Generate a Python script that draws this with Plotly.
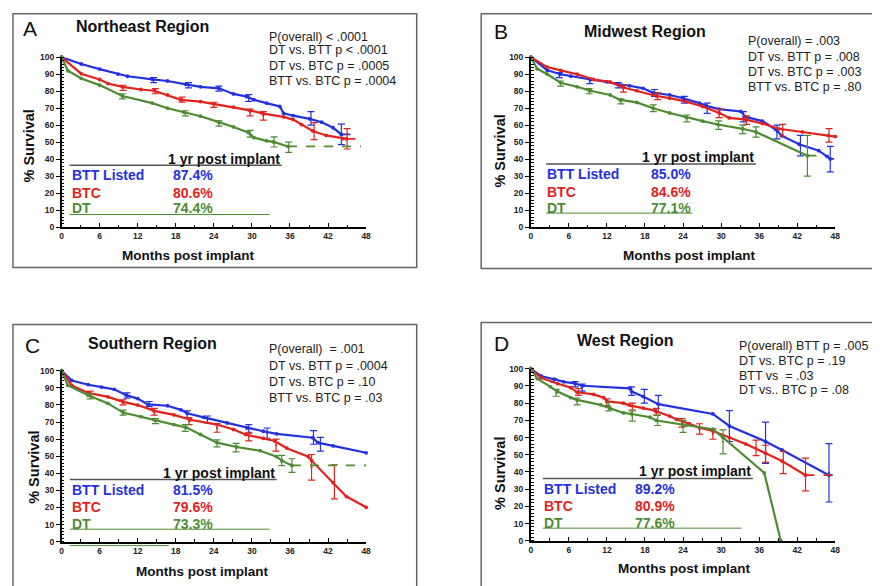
import plotly.graph_objects as go

BLUE = "#2431e0"
RED = "#e2231d"
GREEN = "#4e8c34"
FONT = "Liberation Sans, Arial, Helvetica, sans-serif"

# ---------------- Panel A: Northeast ----------------
NE_BTT_T = [0, 3.1, 6, 8.9, 10.4, 14.3, 16.7, 19.6, 21.9, 24.8, 27.1, 29.2, 30.3, 32.3, 34.4, 35, 36.5, 39.1, 41, 42.8, 44.1]
NE_BTT_S = [100, 96, 93, 90, 88.8, 87, 86, 84, 82.6, 81.7, 78.4, 76.8, 75, 73, 71, 67, 65.6, 63.7, 61.8, 58.5, 54.6]
NE_BTC_T = [0, 3.1, 6, 7.3, 9.6, 12.5, 14.6, 16.7, 18.8, 21.9, 24, 27.1, 29.7, 31.8, 35, 36.5, 37.8, 39.6, 41.7, 44.3, 44.9]
NE_BTC_S = [100, 90.3, 86.9, 84.5, 82.6, 81, 80.3, 77.8, 74.9, 73.9, 72.6, 70.7, 68.7, 66.8, 64.9, 63.3, 60.4, 56.6, 54, 52.1, 52]
NE_DT_T = [0, 1, 3.1, 6, 9.6, 14.3, 16.7, 19.3, 21.9, 24.8, 27.1, 29.5, 30.3, 32.3, 33.4, 35.7]
NE_DT_S = [100, 92, 87.5, 83.6, 77.2, 73, 70, 67.6, 65.3, 61.8, 59, 55.6, 52.7, 50.8, 50.2, 47.5]
NE_BTT_ERR_T = [14.5, 20, 24.8, 29.5, 39.3, 44.1]
NE_BTT_ERR_S = [86.5, 83.5, 81.5, 76, 64, 54.6]
NE_BTT_ERR_H = [1.5, 1.5, 1.5, 2, 4, 6]
NE_BTC_ERR_T = [9.7, 14.8, 19, 24, 29.7, 31.8, 39.8, 45]
NE_BTC_ERR_S = [82, 80, 75, 72, 67.5, 65.5, 56.5, 52]
NE_BTC_ERR_H = [1.5, 1.5, 1.5, 1.5, 2, 2.5, 5, 6]
NE_DT_ERR_T = [9.6, 19.5, 24.8, 29.7, 33.5, 35.8]
NE_DT_ERR_S = [77, 67, 61, 55, 50.2, 47]
NE_DT_ERR_H = [1.5, 1.5, 1.5, 2, 3, 3]
NE_BTT_EXT = 46.5
NE_BTC_EXT = 46.5
NE_DT_EXT = 47.2
NE_ONE_YR = ["87.4%", "80.6%", "74.4%"]
NE_PVALS = ["P(overall) < .0001", "DT vs. BTT p < .0001", "DT vs. BTC p = .0005", "BTT vs. BTC p = .0004"]

# ---------------- Panel B: Midwest ----------------
MW_BTT_T = [0, 2.6, 4.7, 6.3, 9.4, 12, 13.6, 15.6, 17.7, 19.2, 21.9, 24, 26.6, 27.6, 29.7, 33.1, 33.9, 36.5, 38.6, 39.6, 42.3, 45.4, 46.7, 47.2]
MW_BTT_S = [100, 92.3, 90, 88.8, 86.9, 85.5, 84.2, 83.2, 81.7, 79.2, 77.8, 75.9, 73, 71.4, 69.5, 68.1, 64.9, 62.4, 57.5, 53.7, 48.8, 45, 41.7, 40.2]
MW_BTC_T = [0, 2.6, 4.7, 7.3, 9.9, 12.5, 14.6, 16.7, 19.8, 21.9, 24.5, 27.1, 29.7, 31.3, 33.9, 36.5, 39.1, 42.8, 46.9, 48]
MW_BTC_S = [100, 94.2, 92.3, 90, 86.9, 85.5, 82.2, 80.3, 77.2, 75.9, 73.9, 71, 67.2, 64.3, 63.3, 61, 57.9, 56, 54, 53.3]
MW_DT_T = [0, 1, 2.6, 4.7, 7.3, 9.4, 12.5, 14.1, 16.7, 19.3, 21.9, 24.5, 27.1, 29.5, 33.4, 35.5, 43.6]
MW_DT_S = [100, 93.2, 90, 85, 82.6, 80.3, 77.8, 74.9, 73.4, 70, 67.2, 64.7, 62.4, 60.4, 57.9, 56, 42.1]
MW_BTT_ERR_T = [4.5, 9.3, 13.8, 19.5, 24.2, 27.8, 33.5, 38.8, 42.5, 47.2]
MW_BTT_ERR_S = [89.5, 86, 83.5, 79, 75, 70, 65, 56, 48, 40]
MW_BTT_ERR_H = [1.5, 1.5, 1.5, 2, 2, 3, 3, 4, 6, 7.5]
MW_BTC_ERR_T = [14.6, 20, 29.7, 34, 39.7, 47]
MW_BTC_ERR_S = [81.5, 77, 67, 63, 57, 54]
MW_BTC_ERR_H = [2, 2, 2.5, 2.5, 3.5, 4]
MW_DT_ERR_T = [4.7, 9.2, 14.2, 19.3, 24.6, 29.6, 33.4, 35.5, 43.6]
MW_DT_ERR_S = [84.5, 80, 74, 70, 64, 60, 57.5, 56, 42]
MW_DT_ERR_H = [1.5, 1.5, 1.5, 2, 2, 2.5, 2.5, 3, 12]
MW_BTT_EXT = 47.8
MW_BTC_EXT = None
MW_DT_EXT = 45.8
MW_ONE_YR = ["85.0%", "84.6%", "77.1%"]
MW_PVALS = ["P(overall) = .003", "DT vs. BTT p = .008", "DT vs. BTC p = .003", "BTT vs. BTC p = .80"]

# ---------------- Panel C: Southern ----------------
SO_BTT_T = [0, 1.6, 4.2, 6.3, 8.3, 10.2, 12, 13.6, 16.7, 18.8, 19.8, 22.4, 26.1, 29.2, 31.8, 33.9, 39.6, 40.4, 42.8, 48]
SO_BTT_S = [100, 94.3, 91.8, 90.4, 89.1, 85.7, 83.7, 80.3, 79.5, 77.1, 75.1, 72.7, 69.4, 66.5, 64.6, 63.1, 60.8, 57.9, 56, 52]
SO_BTC_T = [0, 1.6, 4.2, 7.3, 9.7, 12, 14.6, 17.7, 20.3, 24.5, 27.1, 29, 31.8, 33.6, 35.5, 38.9, 39.4, 42.8, 44.9, 48]
SO_BTC_S = [100, 91.4, 87, 84.7, 81.8, 79.9, 76.5, 74.2, 71.3, 68.5, 65.6, 62.7, 60.4, 58.9, 54.7, 49.7, 47.4, 34.4, 26.4, 20.1]
SO_DT_T = [0, 1, 4.2, 7.3, 9.7, 12.5, 14.6, 17.7, 19.6, 21.9, 24.5, 27.6, 31.3, 33.9, 34.7, 36.3]
SO_DT_S = [100, 91.4, 85.7, 80.9, 75.5, 73.2, 71.3, 68.5, 66.9, 62.7, 57.9, 55.4, 53.2, 49.7, 47.4, 44.6]
SO_BTT_ERR_T = [10.3, 13.8, 19.8, 23, 29.5, 32.4, 39.7, 40.8]
SO_BTT_ERR_S = [85.5, 80.5, 74.5, 71.5, 66, 63.5, 61, 57]
SO_BTT_ERR_H = [1.5, 1.5, 2, 2, 2.5, 3, 4, 4]
SO_BTC_ERR_T = [4.5, 9.7, 14.6, 20.1, 24.5, 29.5, 33.8, 39.4, 43]
SO_BTC_ERR_S = [86.5, 81.5, 76, 70.5, 66.5, 61.5, 56.5, 43.5, 35]
SO_BTC_ERR_H = [1.5, 1.5, 2, 2, 2.5, 2.5, 3.5, 7.5, 10]
SO_DT_ERR_T = [4.5, 9.7, 14.8, 19.5, 24.5, 27.5, 34.7, 36.3]
SO_DT_ERR_S = [85, 75.5, 70.5, 66.5, 57.5, 55, 47.5, 44.5]
SO_DT_ERR_H = [1.5, 1.5, 1.5, 2, 2, 2.5, 3, 4]
SO_BTT_EXT = None
SO_BTC_EXT = None
SO_DT_EXT = 48
SO_ONE_YR = ["81.5%", "79.6%", "73.3%"]
SO_PVALS = ["P(overall)  = .001", "DT vs. BTT p = .0004", "DT vs. BTC p = .10", "BTT vs. BTC p = .03"]

# ---------------- Panel D: West ----------------
WE_BTT_T = [0, 1.6, 3.7, 5.2, 7, 8.1, 15.6, 15.9, 17.7, 20.1, 28.7, 31.3, 37, 39.6, 47]
WE_BTT_S = [100, 95.8, 93.9, 92.4, 91.4, 90.1, 88.6, 86.7, 83.8, 79.4, 73.7, 66.7, 57.7, 52.8, 38.1]
WE_BTC_T = [0, 1.6, 4.2, 6.3, 7.3, 9.9, 11.5, 12, 14.6, 15.6, 17.7, 19.6, 21.9, 23, 25, 26.6, 28.7, 31.3, 33.9, 37, 39.6, 43.3]
WE_BTC_S = [100, 94.7, 91.4, 89, 86.3, 85.1, 83.2, 81, 80, 78.7, 77.1, 75.6, 72.4, 70.5, 68, 65.7, 63.8, 60, 56.2, 50.9, 46.3, 38.1]
WE_DT_T = [0, 1, 3.1, 4.2, 6.3, 7.3, 11, 12.5, 14.6, 15.9, 18.8, 19.8, 24.5, 28.7, 30.3, 36.8, 39.4]
WE_DT_S = [100, 94.3, 89.5, 86.7, 83.2, 81.9, 79, 77.1, 74.3, 73.7, 71.8, 69.9, 67.2, 64.8, 60, 39.4, 0]
WE_BTT_ERR_T = [3.7, 7, 8.1, 15.9, 17.9, 20.1, 31.3, 37, 47]
WE_BTT_ERR_S = [93, 91, 89, 87, 84, 79.5, 66.7, 57, 39.5]
WE_BTT_ERR_H = [1, 1.5, 2, 2.5, 4, 5, 9, 12, 17]
WE_BTC_ERR_T = [7.5, 12, 16, 19.8, 23.8, 26.6, 28.7, 35.5, 37, 39.8, 43.3]
WE_BTC_ERR_S = [86.5, 80.5, 78, 75, 68.5, 65, 62, 54, 50.5, 45.5, 38.5]
WE_BTC_ERR_H = [2, 2, 2, 2, 2.5, 3, 3, 4.5, 5, 6.5, 9.5]
WE_DT_ERR_T = [4, 7.3, 12.3, 16, 20, 24, 30.3]
WE_DT_ERR_S = [86, 81, 78, 72.5, 70, 66.5, 57.5]
WE_DT_ERR_H = [2, 2, 2.5, 3, 3, 3.5, 7]
WE_BTT_EXT = 47.6
WE_BTC_EXT = 47.3
WE_DT_EXT = None
WE_ONE_YR = ["89.2%", "80.9%", "77.6%"]
WE_PVALS = ["P(overall) BTT p = .005", "DT vs. BTC p = .19", "BTT vs  = .03", "DT vs.. BTC p = .08"]

GROUP_LABELS = ["BTT Listed", "BTC", "DT"]
X_TICKS = [0, 6, 12, 18, 24, 30, 36, 42, 48]
Y_TICKS = [0, 10, 20, 30, 40, 50, 60, 70, 80, 90, 100]

# page is 880x586; the html body has an 8px margin, so the figure is drawn 8px in
OFF = 8
W, H = 880 - OFF, 586 - OFF


def px(x):
    return (x - OFF) / W


def py(y):
    return 1 - (y - OFF) / H


fig = go.Figure()

panels = [
    dict(key="", letter="A", title="Northeast Region",
         series=[(NE_BTT_T, NE_BTT_S, NE_BTT_ERR_T, NE_BTT_ERR_S, NE_BTT_ERR_H, NE_BTT_EXT, BLUE),
                 (NE_BTC_T, NE_BTC_S, NE_BTC_ERR_T, NE_BTC_ERR_S, NE_BTC_ERR_H, NE_BTC_EXT, RED),
                 (NE_DT_T, NE_DT_S, NE_DT_ERR_T, NE_DT_ERR_S, NE_DT_ERR_H, NE_DT_EXT, GREEN)],
         one=NE_ONE_YR, pv=NE_PVALS,
         xdom=[px(60), px(367)], ydom=[py(226), py(53)],
         box=[11, 8.8, 418, 267],
         letter_xy=(19, 24), title_xy=(73, 22), title_anchor="left",
         pv_x=267, pv_y=[32, 46, 62, 77],
         ylab_xy=(27, 143), xlab_xy=(187, 255),
         leg=dict(line=(1.25, 34.7, 36.4), head=(34.7, 40.3), rows_x=1.4, rows_y=[30.6, 20.2, 11.6],
                  val_x=17.3, val_anchor="left", gline=(1.25, 32.8, 7.5))),
    dict(key="2", letter="B", title="Midwest Region",
         series=[(MW_BTT_T, MW_BTT_S, MW_BTT_ERR_T, MW_BTT_ERR_S, MW_BTT_ERR_H, MW_BTT_EXT, BLUE),
                 (MW_BTC_T, MW_BTC_S, MW_BTC_ERR_T, MW_BTC_ERR_S, MW_BTC_ERR_H, MW_BTC_EXT, RED),
                 (MW_DT_T, MW_DT_S, MW_DT_ERR_T, MW_DT_ERR_S, MW_DT_ERR_H, MW_DT_EXT, GREEN)],
         one=MW_ONE_YR, pv=MW_PVALS,
         xdom=[px(533), px(840)], ydom=[py(226), py(53)],
         box=[483, 8.8, 879.5, 268],
         letter_xy=(494, 27), title_xy=(648, 27), title_anchor="center",
         pv_x=750, pv_y=[37, 53, 68, 83],
         ylab_xy=(502, 149), xlab_xy=(692, 255),
         leg=dict(line=(2.4, 35.5, 37.2), head=(35.5, 41.3), rows_x=2.2, rows_y=[31.4, 20.8, 11.2],
                  val_x=25.5, val_anchor="right", gline=(2.4, 25.5, 8.3))),
    dict(key="3", letter="C", title="Southern Region",
         series=[(SO_BTT_T, SO_BTT_S, SO_BTT_ERR_T, SO_BTT_ERR_S, SO_BTT_ERR_H, SO_BTT_EXT, BLUE),
                 (SO_BTC_T, SO_BTC_S, SO_BTC_ERR_T, SO_BTC_ERR_S, SO_BTC_ERR_H, SO_BTC_EXT, RED),
                 (SO_DT_T, SO_DT_S, SO_DT_ERR_T, SO_DT_ERR_S, SO_DT_ERR_H, SO_DT_EXT, GREEN)],
         one=SO_ONE_YR, pv=SO_PVALS,
         xdom=[px(60), px(367)], ydom=[py(546), py(372)],
         box=[11, 325, 418, 600],
         letter_xy=(21, 346), title_xy=(85, 344), title_anchor="left",
         pv_x=267, pv_y=[350, 367, 384, 400],
         ylab_xy=(32, 470), xlab_xy=(202, 576),
         leg=dict(line=(1.3, 33.9, 36.4), head=(33.9, 40.2), rows_x=1.4, rows_y=[30.3, 20.3, 10.2],
                  val_x=17.3, val_anchor="left", gline=(1.3, 32.8, 7.3))),
    dict(key="4", letter="D", title="West Region",
         series=[(WE_BTT_T, WE_BTT_S, WE_BTT_ERR_T, WE_BTT_ERR_S, WE_BTT_ERR_H, WE_BTT_EXT, BLUE),
                 (WE_BTC_T, WE_BTC_S, WE_BTC_ERR_T, WE_BTC_ERR_S, WE_BTC_ERR_H, WE_BTC_EXT, RED),
                 (WE_DT_T, WE_DT_S, WE_DT_ERR_T, WE_DT_ERR_S, WE_DT_ERR_H, WE_DT_EXT, GREEN)],
         one=WE_ONE_YR, pv=WE_PVALS,
         xdom=[px(533), px(840)], ydom=[py(545), py(370)],
         box=[483, 323, 900, 600],
         letter_xy=(494, 344), title_xy=(628, 341), title_anchor="center",
         pv_x=741, pv_y=[347, 362, 377, 392],
         ylab_xy=(502, 477), xlab_xy=(687, 573),
         leg=dict(line=(1.9, 35.0, 36.2), head=(35.0, 40.3), rows_x=1.7, rows_y=[29.9, 20.0, 10.1],
                  val_x=23.0, val_anchor="right", gline=(1.9, 33.2, 7.3))),
]

shapes = []
annotations = []

for p in panels:
    k = p["key"]
    xa, ya = "x" + k, "y" + k
    for (t, s, et, es, eh, ext, col) in p["series"]:
        fig.add_trace(go.Scatter(x=t, y=s, xaxis=xa, yaxis=ya, mode="lines+markers",
                                 line=dict(color=col, width=2.2), marker=dict(color=col, size=3.8),
                                 cliponaxis=False, showlegend=False, hoverinfo="skip"))
        fig.add_trace(go.Scatter(x=et, y=es, xaxis=xa, yaxis=ya, mode="markers",
                                 marker=dict(color=col, size=2),
                                 error_y=dict(type="data", array=eh, color=col, thickness=1.2, width=3.5),
                                 cliponaxis=False, showlegend=False, hoverinfo="skip"))
        if ext is not None:
            fig.add_trace(go.Scatter(x=[t[-1], ext], y=[s[-1], s[-1]], xaxis=xa, yaxis=ya, mode="lines",
                                     line=dict(color=col, width=1.8, dash="dash"),
                                     cliponaxis=False, showlegend=False, hoverinfo="skip"))

    axis_x = dict(domain=p["xdom"], anchor=ya, range=[0, 48], tickvals=X_TICKS,
                  ticks="inside", ticklen=4, tickwidth=1.2, tickcolor="black",
                  minor=dict(dtick=3, ticks="inside", ticklen=2.5, tickcolor="black", tickwidth=1),
                  showline=True, linecolor="black", linewidth=1.5, showgrid=False, zeroline=False,
                  tickfont=dict(size=8.5, family=FONT, color="#222", weight="bold"), fixedrange=True)
    axis_y = dict(domain=p["ydom"], anchor=xa, range=[0, 100], tickvals=Y_TICKS,
                  ticks="outside", ticklen=4, tickwidth=1.2, tickcolor="black",
                  minor=dict(dtick=2, ticks="inside", ticklen=3, tickcolor="black", tickwidth=1),
                  showline=True, linecolor="black", linewidth=1.5, showgrid=False, zeroline=False,
                  tickfont=dict(size=8.5, family=FONT, color="#222", weight="bold"), fixedrange=True)
    fig.update_layout(**{"xaxis" + k: axis_x, "yaxis" + k: axis_y})

    b = p["box"]
    shapes.append(dict(type="rect", xref="paper", yref="paper", x0=px(b[0]), x1=px(b[2]),
                       y0=py(b[3]), y1=py(b[1]), line=dict(color="#666", width=1.5)))

    annotations.append(dict(text=p["letter"], xref="paper", yref="paper", x=px(p["letter_xy"][0]),
                            y=py(p["letter_xy"][1]), xanchor="left", yanchor="middle", showarrow=False,
                            font=dict(size=21, family=FONT, color="#111")))
    annotations.append(dict(text="<b>%s</b>" % p["title"], xref="paper", yref="paper",
                            x=px(p["title_xy"][0]), y=py(p["title_xy"][1]), xanchor=p["title_anchor"],
                            yanchor="middle", showarrow=False, font=dict(size=16, family=FONT, color="#111")))
    for txt, yy in zip(p["pv"], p["pv_y"]):
        annotations.append(dict(text=txt, xref="paper", yref="paper", x=px(p["pv_x"]), y=py(yy),
                                xanchor="left", yanchor="middle", showarrow=False,
                                font=dict(size=12.5, family=FONT, color="#222")))
    annotations.append(dict(text="<b>% Survival</b>", xref="paper", yref="paper", x=px(p["ylab_xy"][0]),
                            y=py(p["ylab_xy"][1]), textangle=-90, showarrow=False,
                            xanchor="center", yanchor="middle", font=dict(size=14.5, family=FONT, color="#111")))
    annotations.append(dict(text="<b>Months post implant</b>", xref="paper", yref="paper",
                            x=px(p["xlab_xy"][0]), y=py(p["xlab_xy"][1]), showarrow=False,
                            xanchor="center", yanchor="middle", font=dict(size=13.5, family=FONT, color="#111")))

    lg = p["leg"]
    shapes.append(dict(type="line", xref=xa, yref=ya, x0=lg["line"][0], x1=lg["line"][1],
                       y0=lg["line"][2], y1=lg["line"][2], line=dict(color="#555", width=1.5)))
    shapes.append(dict(type="line", xref=xa, yref=ya, x0=lg["gline"][0], x1=lg["gline"][1],
                       y0=lg["gline"][2], y1=lg["gline"][2], line=dict(color=GREEN, width=1)))
    annotations.append(dict(text="<b>1 yr post implant</b>", xref=xa, yref=ya, x=lg["head"][0],
                            y=lg["head"][1], xanchor="right", yanchor="middle", showarrow=False,
                            font=dict(size=14, family=FONT, color="#111")))
    for lab, val, yy, col in zip(GROUP_LABELS, p["one"], lg["rows_y"], [BLUE, RED, GREEN]):
        annotations.append(dict(text="<b>%s</b>" % lab, xref=xa, yref=ya, x=lg["rows_x"], y=yy,
                                xanchor="left", yanchor="middle", showarrow=False,
                                font=dict(size=14, family=FONT, color=col)))
        annotations.append(dict(text="<b>%s</b>" % val, xref=xa, yref=ya, x=lg["val_x"], y=yy,
                                xanchor=lg["val_anchor"], yanchor="middle", showarrow=False,
                                font=dict(size=14, family=FONT, color=col)))

# stray green underline below panel C axis
shapes.append(dict(type="line", xref="paper", yref="paper", x0=px(68), x1=px(168), y0=py(550), y1=py(550),
                   line=dict(color=GREEN, width=1)))

fig.update_layout(width=W, height=H, margin=dict(l=0, r=0, t=0, b=0),
                  paper_bgcolor="white", plot_bgcolor="white",
                  shapes=shapes, annotations=annotations, showlegend=False,
                  font=dict(family=FONT))

fig.write_html("out.html")
